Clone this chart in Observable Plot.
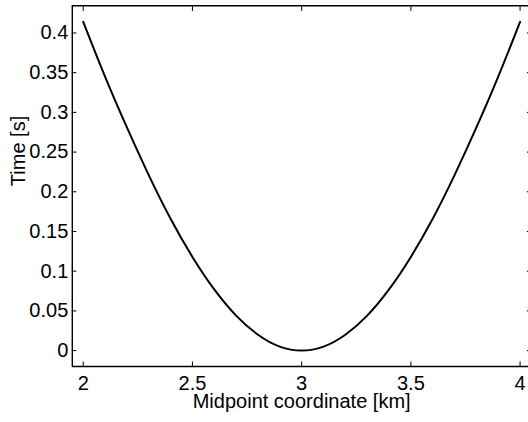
<!DOCTYPE html>
<html>
<head>
<meta charset="utf-8">
<script src="https://cdn.jsdelivr.net/npm/d3@7"></script>
<script src="https://cdn.jsdelivr.net/npm/@observablehq/plot@0.6"></script>
<style>
  html, body { margin: 0; padding: 0; background: #fff; }
  #chart svg { display: block; }
</style>
</head>
<body>
<div id="chart"></div>
<script>
// Midpoint coordinate [km] and traveltime [s]
const midpoints = [2.0, 2.1, 2.2, 2.3, 2.4, 2.5, 2.6, 2.7, 2.8, 2.9, 3.0,
                   3.1, 3.2, 3.3, 3.4, 3.5, 3.6, 3.7, 3.8, 3.9, 4.0];
const times = [0.414, 0.345, 0.281, 0.221, 0.166, 0.118, 0.077, 0.044, 0.020, 0.005, 0.000,
               0.005, 0.020, 0.044, 0.077, 0.118, 0.166, 0.221, 0.281, 0.345, 0.414];

const xTicks = [2, 2.5, 3, 3.5, 4];
const xTickLabels = ["2", "2.5", "3", "3.5", "4"];
const yTicks = [0, 0.05, 0.1, 0.15, 0.2, 0.25, 0.3, 0.35, 0.4];
const yTickLabels = ["0", "0.05", "0.1", "0.15", "0.2", "0.25", "0.3", "0.35", "0.4"];
const xLimits = [1.95, 4.05];
const yLimits = [-0.02, 0.4342];
const xLabel = "Midpoint coordinate [km]";
const yLabel = "Time [s]";

const curve = midpoints.map((m, i) => ({x: m, t: times[i]}));
const xt = xTicks.map((v, i) => ({v, label: xTickLabels[i]}));
const yt = yTicks.map((v, i) => ({v, label: yTickLabels[i]}));

const tick = 4.6;

const chart = Plot.plot({
  width: 528,
  height: 422,
  marginLeft: 71.8,
  marginRight: -2.5,
  marginTop: 5.3,
  marginBottom: 56,
  style: {fontFamily: "'Liberation Sans', Arial, sans-serif", fontSize: "20px", color: "#000", background: "#fff"},
  x: {domain: xLimits},
  y: {domain: yLimits},
  marks: [
    // inward ticks on all four sides
    Plot.axisX(xTicks, {anchor: "bottom", tickSize: -tick, fill: "none", label: null, strokeWidth: 1}),
    Plot.axisX(xTicks, {anchor: "top", tickSize: -tick, fill: "none", label: null, strokeWidth: 1}),
    Plot.axisY(yTicks, {anchor: "left", tickSize: -tick, fill: "none", label: null, strokeWidth: 1}),
    Plot.axisY(yTicks, {anchor: "right", tickSize: -tick, fill: "none", label: null, strokeWidth: 1}),
    // box
    Plot.ruleX(xLimits, {stroke: "#000", strokeWidth: 1.4}),
    Plot.ruleY(yLimits, {stroke: "#000", strokeWidth: 1.4}),
    // tick labels
    Plot.text(xt, {x: "v", text: "label", frameAnchor: "bottom", lineAnchor: "top", dy: 9.5, fill: "#000"}),
    Plot.text(yt, {y: "v", text: "label", frameAnchor: "left", textAnchor: "end", dx: -4, fill: "#000"}),
    // axis labels
    Plot.text([xLabel], {text: d => d, frameAnchor: "bottom", lineAnchor: "top", dy: 27.3, fill: "#000"}),
    Plot.text([yLabel], {text: d => d, frameAnchor: "left", rotate: -90, dx: -54.2, fill: "#000"}),
    // curve
    Plot.line(curve, {x: "x", y: "t", stroke: "#000", strokeWidth: 2, curve: "natural"})
  ]
});
document.getElementById("chart").append(chart);
</script>
</body>
</html>
